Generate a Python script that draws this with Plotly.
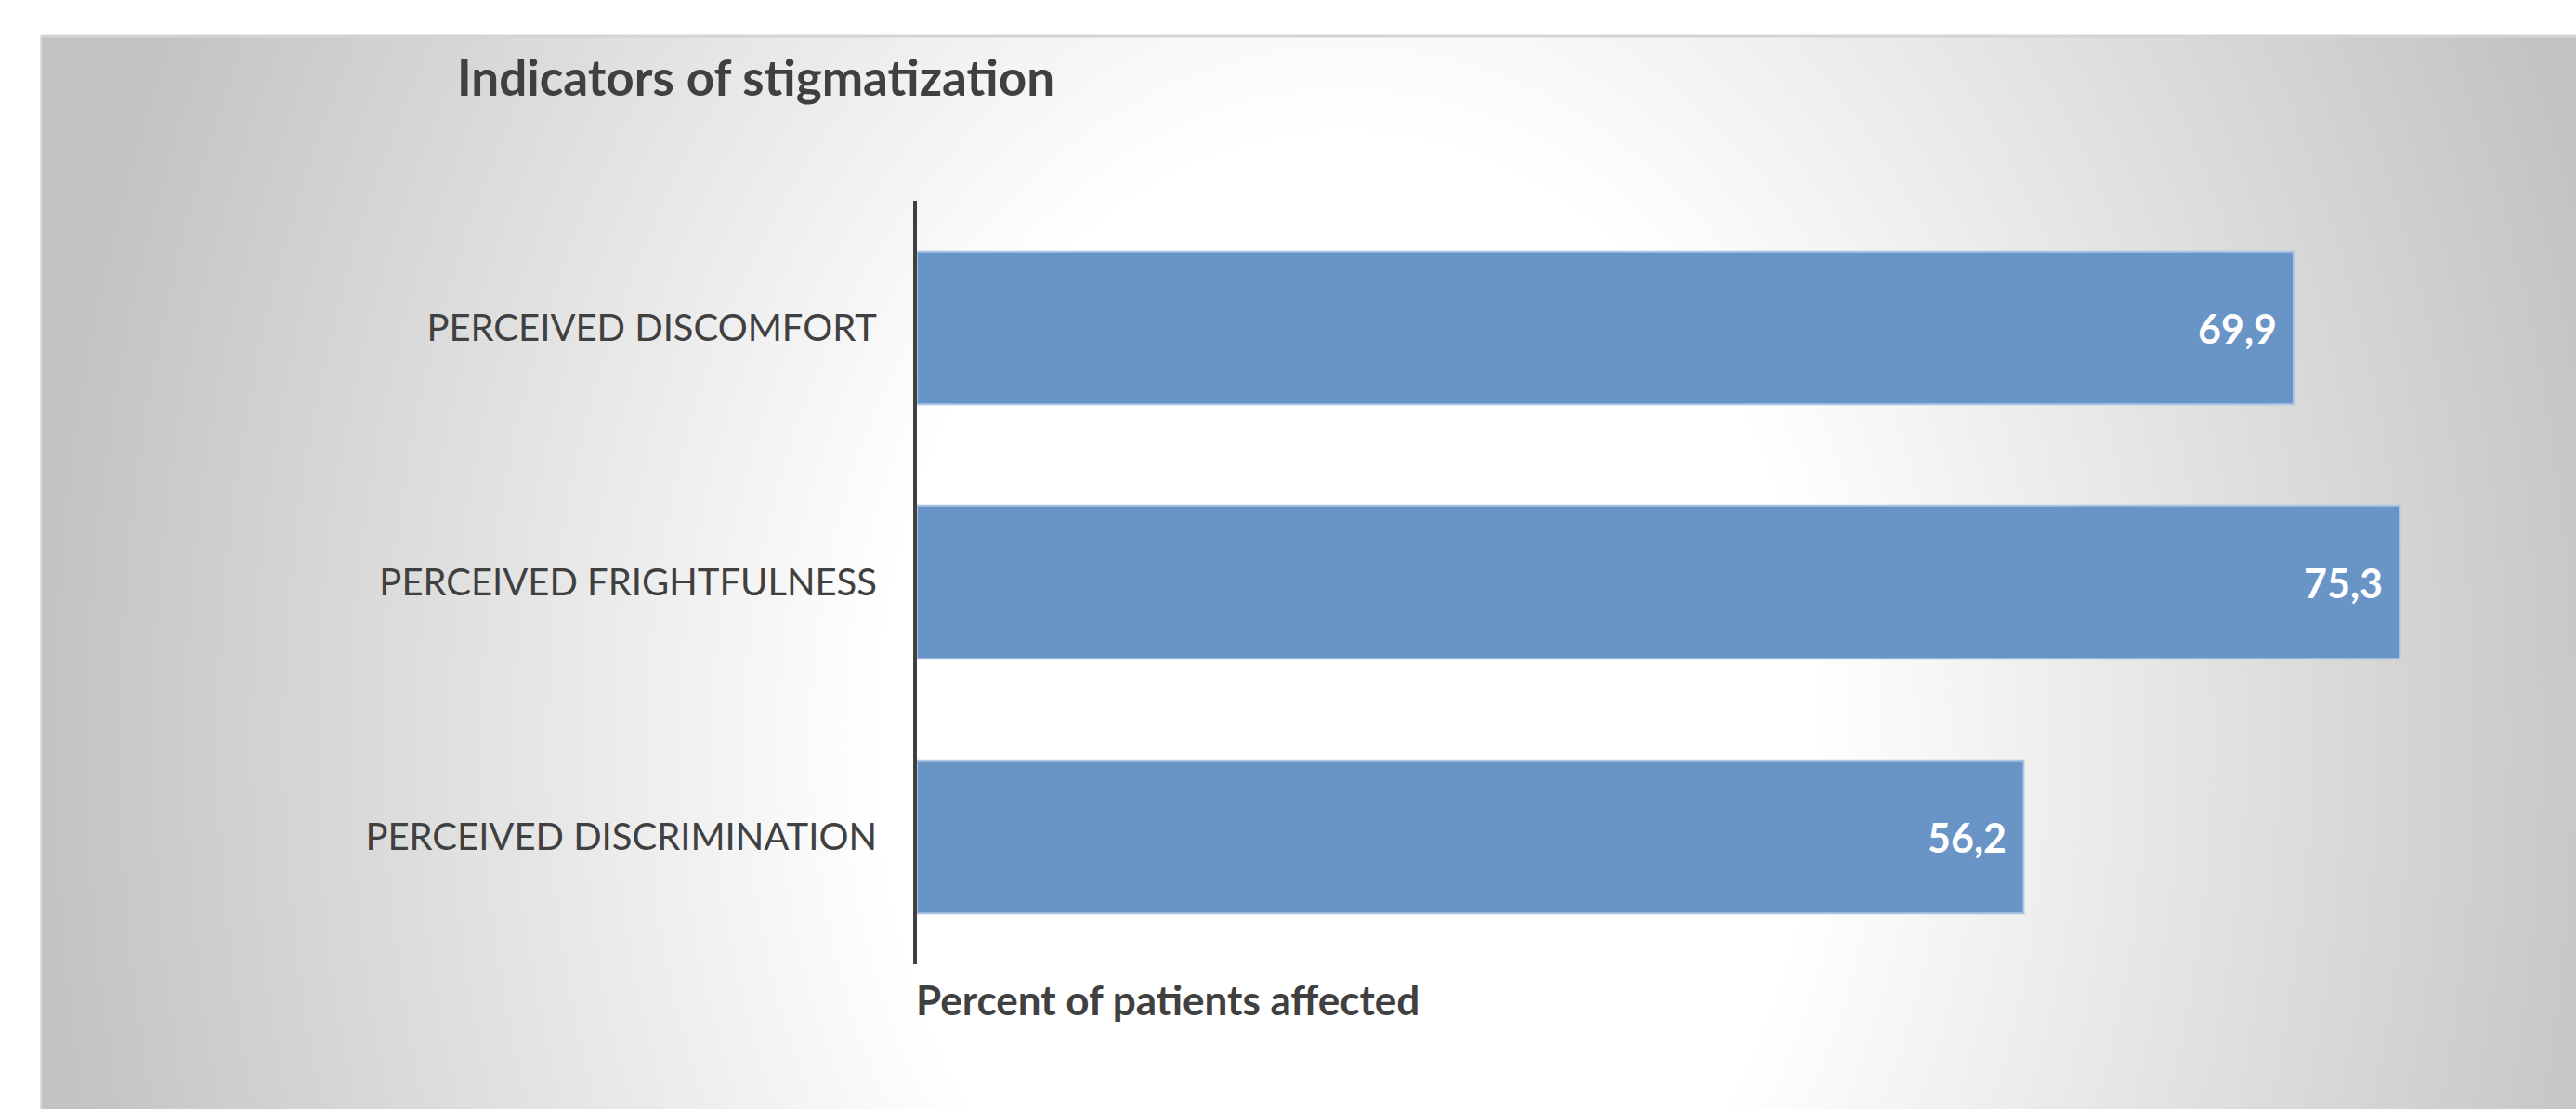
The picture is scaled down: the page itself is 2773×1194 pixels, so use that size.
import base64
import plotly.graph_objects as go

# ---- data ----
categories = ["PERCEIVED DISCOMFORT", "PERCEIVED FRIGHTFULNESS", "PERCEIVED DISCRIMINATION"]
values = [69.9, 75.3, 56.2]
title_text = "Indicators of stigmatization"
x_title = "Percent of patients affected"
x_max = 80

W, H = 2773, 1194
ML, MR, MT, MB = 987, 90, 216, 156
PW, PH = W - ML - MR, H - MT - MB

def px_to_paper_x(px):
    return (px - ML) / PW

def px_to_paper_y(py):
    return (H - MB - py) / PH

# radial gradient background (panel) as SVG
panel_x0, panel_y0 = 44, 39
pw_, ph_ = W - panel_x0, H - panel_y0
cx, cy = 1450, 800
svg = f'''<svg xmlns="http://www.w3.org/2000/svg" width="{pw_}" height="{ph_}" viewBox="0 0 {pw_} {ph_}" preserveAspectRatio="none">
<defs><radialGradient id="g" gradientUnits="userSpaceOnUse" cx="{cx-panel_x0}" cy="{cy-panel_y0}" r="1400"
gradientTransform="translate({cx-panel_x0},{cy-panel_y0}) scale(1,1.3) translate({-(cx-panel_x0)},{-(cy-panel_y0)})">
<stop offset="0" stop-color="#ffffff"/><stop offset="0.36" stop-color="#ffffff"/>
<stop offset="1" stop-color="#c3c3c3"/></radialGradient></defs>
<rect x="0" y="0" width="{pw_}" height="{ph_}" fill="url(#g)"/></svg>'''
svg_uri = "data:image/svg+xml;base64," + base64.b64encode(svg.encode()).decode()

fig = go.Figure()
fig.add_trace(go.Bar(
    y=categories, x=values, orientation="h", width=0.6,
    marker=dict(color="#6994c6", line=dict(color="#a9c3e3", width=2)),
    hoverinfo="skip",
))

for c, v in zip(categories, values):
    fig.add_annotation(
        x=v, y=c, xref="x", yref="y", text=f"{v:.1f}".replace(".", ","),
        showarrow=False, xanchor="right", xshift=-16,
        font=dict(family="Lato", size=43, color="#ffffff", weight="bold"),
    )

fig.add_layout_image(dict(
    source=svg_uri, xref="paper", yref="paper",
    x=px_to_paper_x(panel_x0), y=px_to_paper_y(panel_y0),
    sizex=(W - panel_x0) / PW, sizey=(H - panel_y0) / PH,
    xanchor="left", yanchor="top", sizing="stretch", layer="below",
))

# panel border lines (top and left)
fig.add_shape(type="line", xref="paper", yref="paper",
              x0=px_to_paper_x(panel_x0), x1=px_to_paper_x(W),
              y0=px_to_paper_y(panel_y0), y1=px_to_paper_y(panel_y0),
              line=dict(color="#d4d4d4", width=3), layer="below")
fig.add_shape(type="line", xref="paper", yref="paper",
              x0=px_to_paper_x(panel_x0), x1=px_to_paper_x(panel_x0),
              y0=px_to_paper_y(panel_y0), y1=px_to_paper_y(H),
              line=dict(color="#dcdcdc", width=2), layer="below")

fig.add_annotation(
    x=0, y=px_to_paper_y(1076), xref="paper", yref="paper", text=x_title,
    showarrow=False, xanchor="left", yanchor="middle", xshift=-3,
    font=dict(family="Lato", size=44, color="#404040", weight="bold"),
)

fig.update_layout(
    width=W, height=H,
    margin=dict(l=ML, r=MR, t=MT, b=MB, pad=0),
    paper_bgcolor="#ffffff", plot_bgcolor="rgba(0,0,0,0)",
    showlegend=False,
    title=dict(text=title_text, x=492 / W, xanchor="left", y=1 - 84 / H, yanchor="middle",
               font=dict(family="Lato", size=53, color="#404040", weight="bold")),
    xaxis=dict(range=[0, x_max], visible=False, fixedrange=True),
    yaxis=dict(
        categoryorder="array", categoryarray=categories, autorange="reversed",
        showline=True, linecolor="#404040", linewidth=4,
        ticks="outside", ticklen=31, tickcolor="rgba(0,0,0,0)",
        showgrid=False, zeroline=False,
        tickfont=dict(family="Lato", size=40, color="#404040"),
    ),
)

fig.write_html("out.html", config={"displayModeBar": False},
               post_script="document.body.style.margin='0';document.body.style.padding='0';")
